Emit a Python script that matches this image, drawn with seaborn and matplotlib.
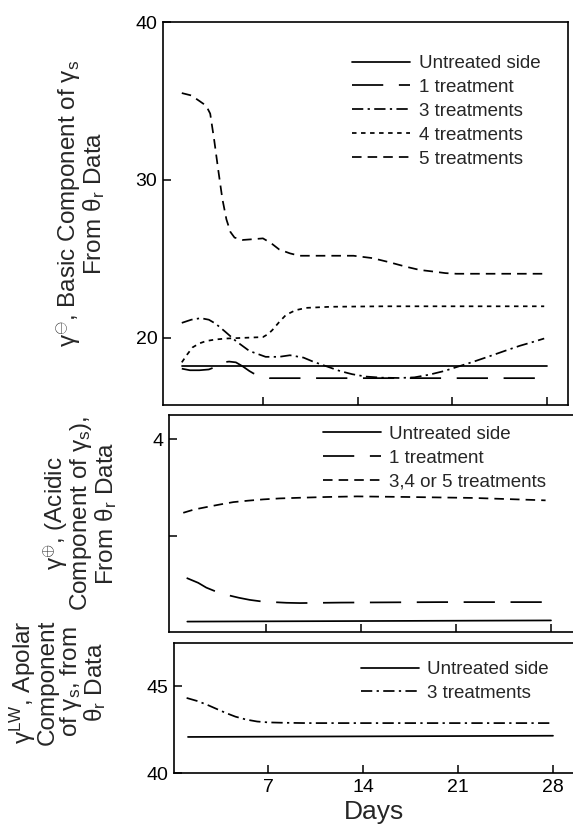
import numpy as np
import pandas as pd
import matplotlib
matplotlib.use("Agg")
import matplotlib.pyplot as plt
import seaborn as sns

sns.set_style("ticks")
plt.rcParams["font.family"] = ["Liberation Sans", "DejaVu Sans"]
plt.rcParams["mathtext.fontset"] = "custom"
plt.rcParams["mathtext.rm"] = "Liberation Sans"
plt.rcParams["mathtext.it"] = "Liberation Sans:italic"

# ---------------- Panel 1: basic component ----------------
p1_untreated_days = [1, 28]
p1_untreated_vals = [18.2, 18.2]
p1_t1_days = [1, 1.6, 2.3, 3.0, 3.3, 3.5, 4.0, 4.5, 5.0, 5.5, 6.0, 6.3, 6.8, 7.5, 10, 14, 21, 28]
p1_t1_vals = [18.05, 17.95, 17.95, 18.0, 18.1, 18.3, 18.45, 18.5, 18.45, 18.2, 17.9, 17.75, 17.6, 17.45, 17.45, 17.45, 17.45, 17.45]
p1_t3_days = [1, 1.7, 2.4, 3.0, 3.5, 4.2, 5.0, 6.0, 7.2, 8.2, 9.0, 10.0, 10.7, 11.7, 12.7, 13.6, 14.6, 15.8, 17.1, 18.2, 19.3, 20.4, 21.5, 22.6, 23.8, 24.9, 26.0, 27.0, 27.8]
p1_t3_vals = [20.95, 21.15, 21.25, 21.15, 20.9, 20.4, 19.8, 19.17, 18.8, 18.8, 18.9, 18.75, 18.5, 18.2, 17.9, 17.7, 17.55, 17.48, 17.46, 17.5, 17.67, 17.9, 18.2, 18.5, 18.85, 19.18, 19.5, 19.75, 19.96]
p1_t4_days = [1, 1.4, 1.8, 2.3, 2.8, 3.5, 4.3, 5.5, 7.0, 7.4, 7.7, 8.2, 8.7, 9.4, 10.2, 12, 16, 22, 27.8]
p1_t4_vals = [18.45, 18.95, 19.4, 19.65, 19.8, 19.9, 19.96, 20.0, 20.05, 20.25, 20.5, 21.0, 21.45, 21.75, 21.9, 21.97, 22.0, 22.0, 22.0]
p1_t5_days = [1, 1.7, 2.3, 2.8, 3.1, 3.4, 3.7, 4.0, 4.3, 4.6, 4.9, 5.5, 6.3, 7.0, 7.6, 8.2, 9.0, 9.7, 11, 13.7, 15.1, 16.3, 17.6, 18.6, 19.6, 20.5, 21.3, 24, 27.8]
p1_t5_vals = [35.5, 35.35, 35.0, 34.7, 34.2, 32.5, 30.6, 28.8, 27.5, 26.7, 26.35, 26.2, 26.25, 26.3, 26.0, 25.6, 25.35, 25.2, 25.2, 25.2, 25.05, 24.8, 24.5, 24.3, 24.2, 24.1, 24.06, 24.06, 24.06]

# ---------------- Panel 2: acidic component ----------------
p2_untreated_days = [1.2, 28]
p2_untreated_vals = [2.108, 2.12]
p2_t1_days = [1.15, 2.0, 2.6, 3.3, 4.1, 5.0, 5.8, 6.6, 7.5, 8.5, 9.5, 12.5, 20, 28]
p2_t1_vals = [2.56, 2.51, 2.46, 2.42, 2.385, 2.355, 2.333, 2.318, 2.31, 2.303, 2.30, 2.305, 2.31, 2.31]
p2_t345_days = [0.9, 1.7, 2.6, 3.6, 4.6, 5.7, 6.8, 8.0, 9.5, 11.5, 13.7, 17.4, 22.3, 27.6]
p2_t345_vals = [3.236, 3.27, 3.295, 3.322, 3.347, 3.362, 3.375, 3.385, 3.392, 3.40, 3.406, 3.40, 3.39, 3.365]

# ---------------- Panel 3: apolar component ----------------
p3_untreated_days = [1.1, 28]
p3_untreated_vals = [42.08, 42.15]
p3_t3_days = [1, 1.8, 2.5, 3.2, 3.9, 4.6, 5.4, 6.2, 7.0, 8.0, 9.8, 15, 21, 28]
p3_t3_vals = [44.33, 44.15, 43.94, 43.7, 43.46, 43.25, 43.08, 42.97, 42.92, 42.9, 42.88, 42.88, 42.88, 42.88]

xticks_days = [7, 14, 21, 28]
xlabel = "Days"

LW = 1.25
styles = {
    "untreated": "-",
    "t1": (0, (18, 9)),
    "t3": (0, (6.5, 2.5, 1.3, 2.5)),
    "t4": (0, (2.6, 2.6)),
    "t5": (0, (5.5, 3.5)),
}

W, H = 573, 836
fig = plt.figure(figsize=(W / 100, H / 100), dpi=100)


def ax_at(left, top, right, bottom):
    return fig.add_axes([left / W, 1 - bottom / H, (right - left) / W, (bottom - top) / H])


ax1 = ax_at(163, 22, 568, 405)
ax2 = ax_at(169, 415, 575, 632)
ax3 = ax_at(174, 643, 575, 773)


def draw(ax, d, v, style, label):
    sns.lineplot(x=d, y=v, ax=ax, color="black", linewidth=LW, linestyle=style, label=label, sort=False)


draw(ax1, p1_untreated_days, p1_untreated_vals, styles["untreated"], "Untreated side")
draw(ax1, p1_t1_days, p1_t1_vals, styles["t1"], "1 treatment")
draw(ax1, p1_t3_days, p1_t3_vals, styles["t3"], "3 treatments")
draw(ax1, p1_t4_days, p1_t4_vals, styles["t4"], "4 treatments")
draw(ax1, p1_t5_days, p1_t5_vals, styles["t5"], "5 treatments")

draw(ax2, p2_untreated_days, p2_untreated_vals, styles["untreated"], "Untreated side")
draw(ax2, p2_t1_days, p2_t1_vals, styles["t1"], "1 treatment")
draw(ax2, p2_t345_days, p2_t345_vals, styles["t5"], "3,4 or 5 treatments")

draw(ax3, p3_untreated_days, p3_untreated_vals, styles["untreated"], "Untreated side")
draw(ax3, p3_t3_days, p3_t3_vals, styles["t3"], "3 treatments")

ax1.set_xlim(-0.39, 29.56)
ax1.set_ylim(15.75, 40)
ax1.set_yticks([20, 30, 40])
ax2.set_xlim(-0.15, 28 + (575 - 551) / 13.57)
ax2.set_ylim(2.0, 4.25)
ax2.set_yticks([3, 4])
ax2.set_yticklabels(["", "4"])
ax3.set_xlim(0.07, 28 + (575 - 553) / 13.57)
ax3.set_ylim(40, 47.5)
ax3.set_yticks([40, 45])

for ax in (ax1, ax2, ax3):
    ax.set_xticks(xticks_days)
    ax.tick_params(direction="in", length=6, width=1.1, labelsize=14, pad=4, colors="black")
    for s in ax.spines.values():
        s.set_linewidth(1.2)
        s.set_color("black")
    ax.set_xlabel("")
    ax.set_ylabel("")
for ax in (ax1, ax2):
    ax.set_xticklabels([])
for ax in (ax2, ax3):
    ax.spines["right"].set_visible(False)
ax3.set_xticklabels([str(d) for d in xticks_days])
ax3.set_xlabel(xlabel, fontsize=19, labelpad=3)

leg_kw = dict(frameon=False, fontsize=13.5, handlelength=3.1, handletextpad=0.45,
              labelspacing=0.36, borderpad=0, borderaxespad=0, loc="upper left")
ax1.legend(bbox_to_anchor=(0.467, 0.914), **leg_kw)
ax2.legend(bbox_to_anchor=(0.379, 0.951), **leg_kw)
ax3.legend(bbox_to_anchor=(0.466, 0.862), **leg_kw)

G = "\\mathrm{\\gamma}"
T = "\\mathrm{\\theta}"
lab_kw = dict(rotation=90, ha="center", va="center", fontsize=17.5, family=["Liberation Sans", "DejaVu Sans"],
              multialignment="center", linespacing=0.92)
fig.text(81 / W, 1 - 203 / H,
         f"${G}^{{\\ominus}}$, Basic Component of ${G}_\\mathrm{{s}}$\nFrom ${T}_\\mathrm{{r}}$ Data", **lab_kw)
fig.text(80 / W, 1 - 513 / H,
         f"${G}^{{\\oplus}}$, (Acidic\nComponent of ${G}_\\mathrm{{s}}$),\nFrom ${T}_\\mathrm{{r}}$ Data", **lab_kw)
fig.text(58 / W, 1 - 682 / H,
         f"${G}^{{\\mathrm{{LW}}}}$, Apolar\nComponent\nof ${G}_\\mathrm{{s}}$, from\n${T}_\\mathrm{{r}}$ Data", **lab_kw)

fig.savefig("out.png", dpi=100)
